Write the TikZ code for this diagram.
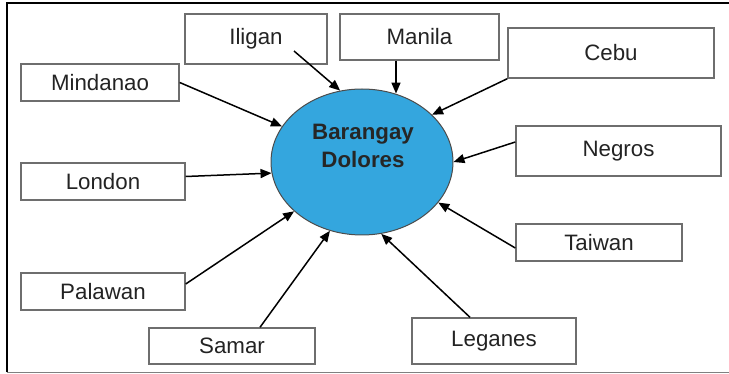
\documentclass[tikz,border=0pt]{standalone}
\usepackage{fontspec}
\setmainfont{Liberation Sans}
\usetikzlibrary{arrows.meta,shapes.geometric,calc}
\definecolor{hubblue}{RGB}{52,166,222}
\definecolor{boxgray}{RGB}{110,110,110}
\definecolor{inkgray}{RGB}{35,35,35}

\begin{document}
\begin{tikzpicture}[x=1pt, y=-1pt, every node/.style={font=\fontsize{22.3}{28}\selectfont, text=inkgray},
    city/.style={draw=boxgray, line width=1.4pt, inner sep=0pt},
    feed/.style={-{Triangle[length=11pt,width=9pt]}, line width=1.5pt}]
    \useasboundingbox (0,0) rectangle (729,374);
    \draw[line width=2pt] (729,3.5) -- (6.5,3.5) -- (6.5,372);
    \draw[line width=1.5pt, gray] (6.5,372.5) -- (729,372.5);

    \node[ellipse, draw=black!70, fill=hubblue, line width=1pt, minimum width=182pt, minimum height=146pt, inner sep=0pt] (dol) at (362,162) {};
    \node[align=center, font=\fontsize{22.3}{28}\selectfont\bfseries, text=black!85] (dolname) at (363,146) {Barangay\\Dolores};

    \node[city, minimum width=142pt, minimum height=50pt] (iligan) at (256,39) {Iligan};
    \node[city, minimum width=159pt, minimum height=46pt] (manila) at (419.5,37) {Manila};
    \node[city, minimum width=206pt, minimum height=50pt] (cebu) at (611,53) {Cebu};
    \node[city, minimum width=158pt, minimum height=37pt] (mindanao) at (100,82.5) {Mindanao};
    \node[city, minimum width=164pt, minimum height=37pt] (london) at (103,181.5) {London};
    \node[city, minimum width=205pt, minimum height=50pt] (negros) at (618.5,151) {Negros};
    \node[city, minimum width=166pt, minimum height=37pt] (taiwan) at (599,242.5) {Taiwan};
    \node[city, minimum width=164pt, minimum height=37pt] (palawan) at (103,291.5) {Palawan};
    \node[city, minimum width=166pt, minimum height=36pt] (samar) at (232,346) {Samar};
    \node[city, minimum width=164pt, minimum height=46pt] (leganes) at (494,341) {Leganes};

    \draw[feed] ($(iligan.center)+(38,12)$) -- (dol.107);
    \draw[feed] ($(manila.south)+(-23.5,0)$) coordinate (m1) -- (m1 |- dol.64);
    \draw[feed] (cebu.south west) -- (dol.34);
    \draw[feed] ($(negros.west)+(0,-9)$) -- (dol.east);
    \draw[feed] ($(taiwan.west)+(0,5.5)$) -- (dol.332);
    \draw[feed] ($(leganes.north)+(-24,0)$) -- (dol.285);
    \draw[feed] ($(samar.north)+(28,0)$) -- (dol.245);
    \draw[feed] ($(palawan.east)+(0,-7.5)$) -- (dol.216);
    \draw[feed] ($(london.east)+(0,-5)$) -- (dol.187);
    \draw[feed] (mindanao.east) -- (dol.156);
\end{tikzpicture}
\end{document}
